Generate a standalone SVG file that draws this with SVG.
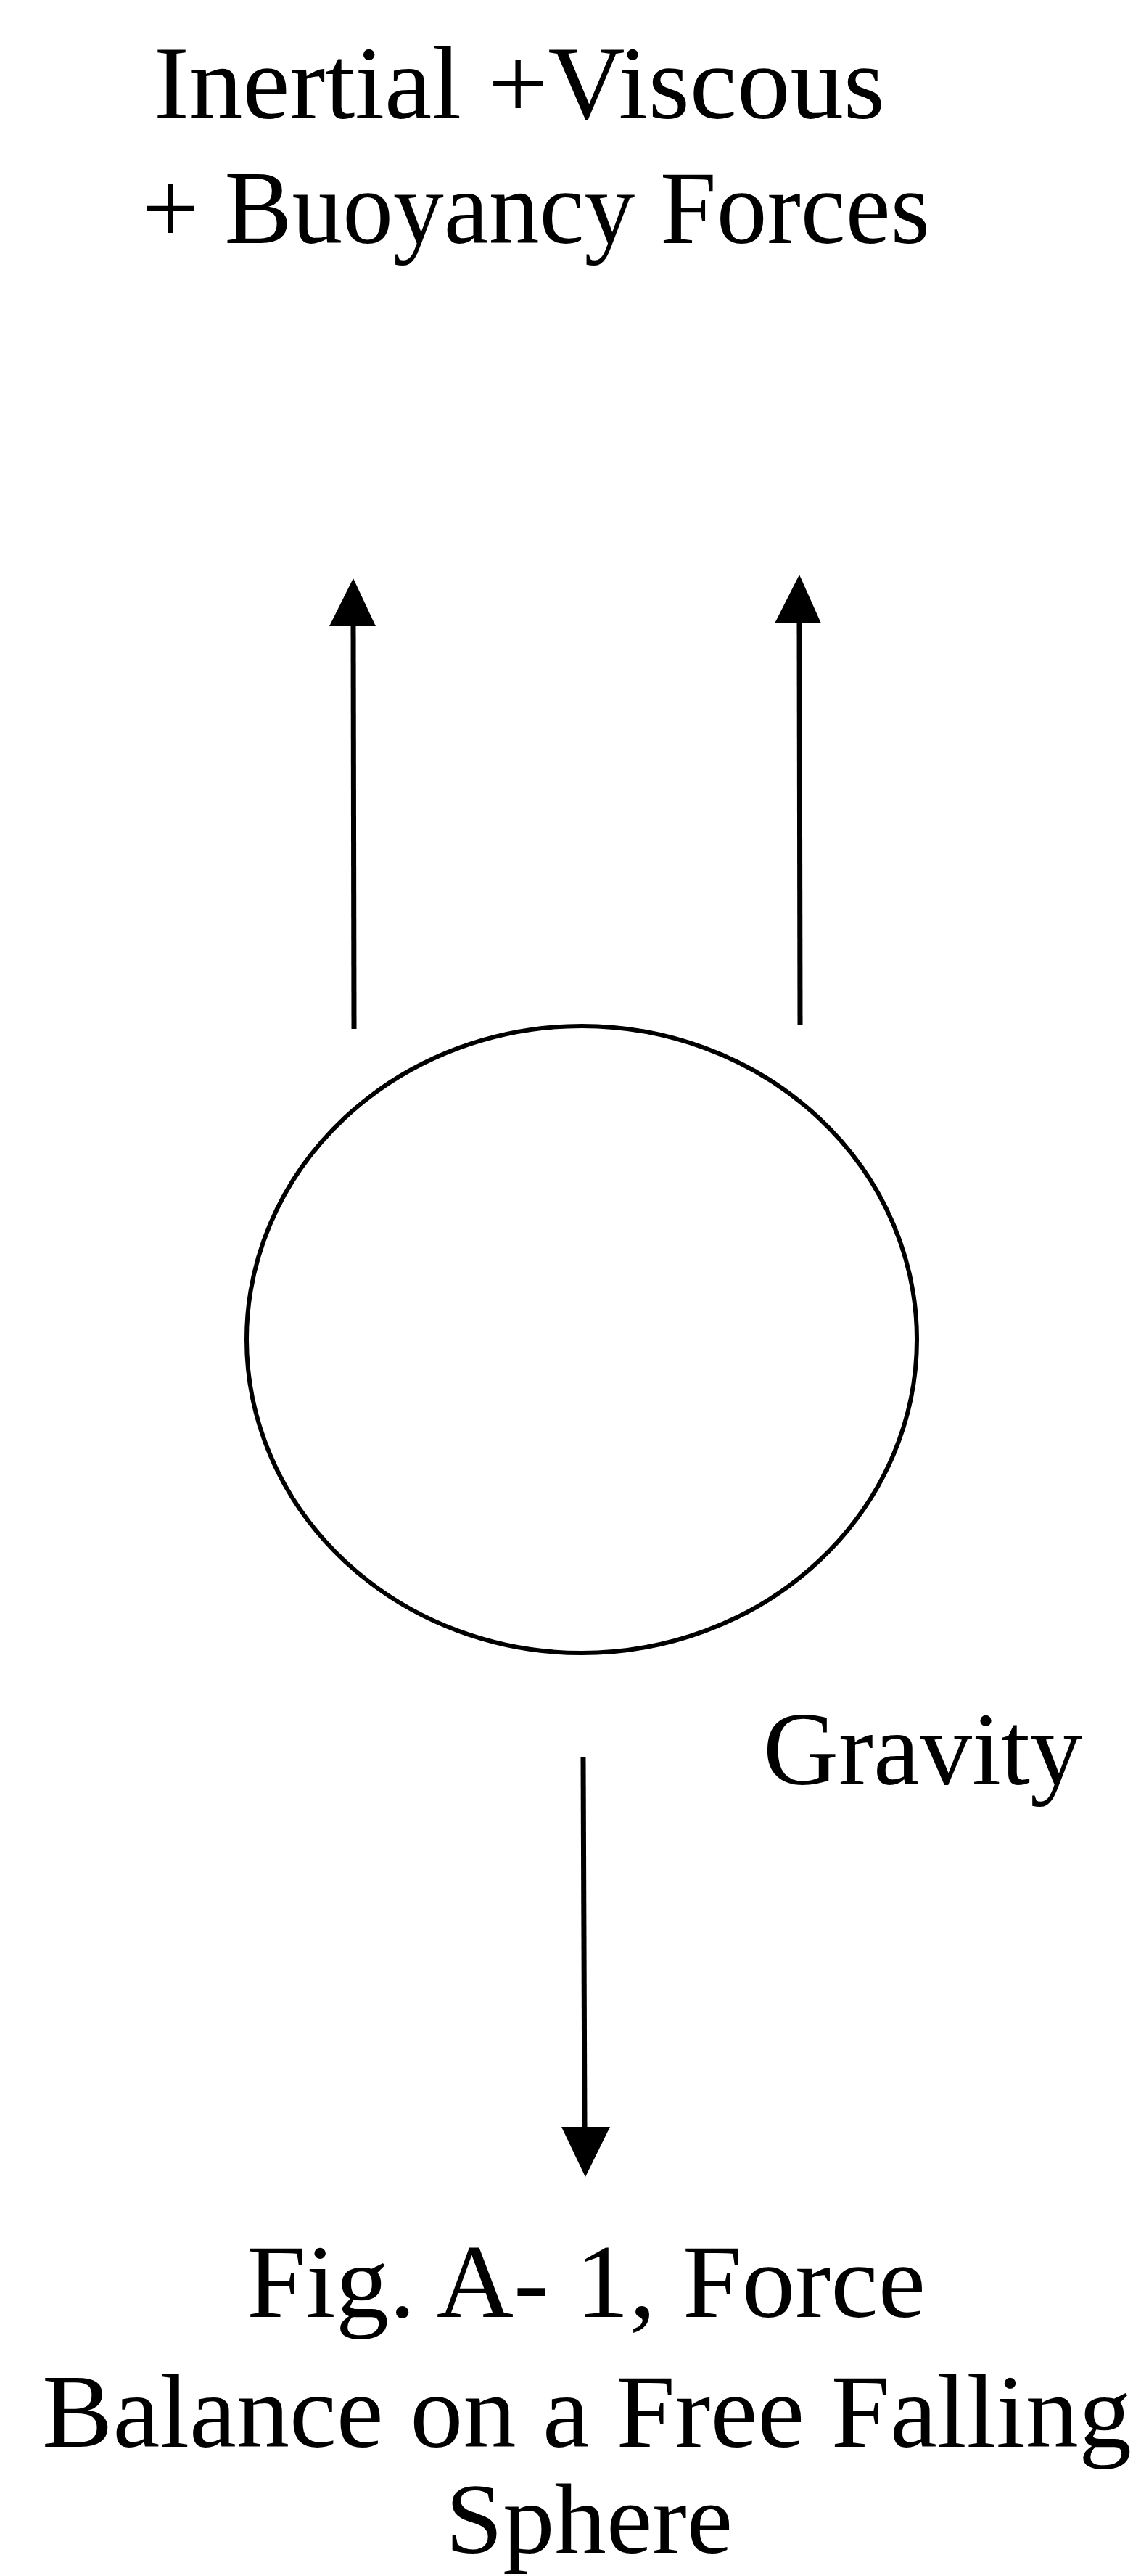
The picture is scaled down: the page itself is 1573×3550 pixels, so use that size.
<svg xmlns="http://www.w3.org/2000/svg" width="1573" height="3550" viewBox="0 0 1573 3550">
<style>
.t{font-family:"Liberation Serif","Times New Roman",serif;font-size:145px;fill:#000}
.s{stroke:#000;stroke-width:7;fill:none}
.h{fill:#000;stroke:none}
</style>
<rect width="1573" height="3550" fill="#fff"/>
<g id="label-top">
<text class="t" x="212" y="163" textLength="1008" lengthAdjust="spacingAndGlyphs">Inertial +Viscous</text>
<text class="t" x="196" y="335" textLength="1086" lengthAdjust="spacingAndGlyphs">+ Buoyancy Forces</text>
</g>
<g id="sphere">
<ellipse cx="802" cy="1846" rx="462" ry="432" stroke="#000" stroke-width="6" fill="none"/>
</g>
<g id="label-gravity">
<text class="t" x="1052" y="2459" textLength="440" lengthAdjust="spacingAndGlyphs">Gravity</text>
</g>
<g id="caption">
<text class="t" x="340" y="3193" textLength="936" lengthAdjust="spacingAndGlyphs">Fig. A- 1, Force</text>
<text class="t" x="58" y="3372" textLength="1502" lengthAdjust="spacingAndGlyphs">Balance on a Free Falling</text>
<text class="t" x="614" y="3518" font-size="138" textLength="396" lengthAdjust="spacingAndGlyphs" style="font-size:138px">Sphere</text>
</g>
<g id="connectors">
<line class="s" x1="487" y1="860" x2="488" y2="1418"/>
<polygon class="h" points="487,797 518,863 454,863"/>
<line class="s" x1="1102" y1="856" x2="1103" y2="1412"/>
<polygon class="h" points="1102,792 1132,859 1068,859"/>
<line class="s" x1="804" y1="2422" x2="806" y2="2934"/>
<polygon class="h" points="807,3000 841,2931 774,2931"/>
</g>
</svg>
